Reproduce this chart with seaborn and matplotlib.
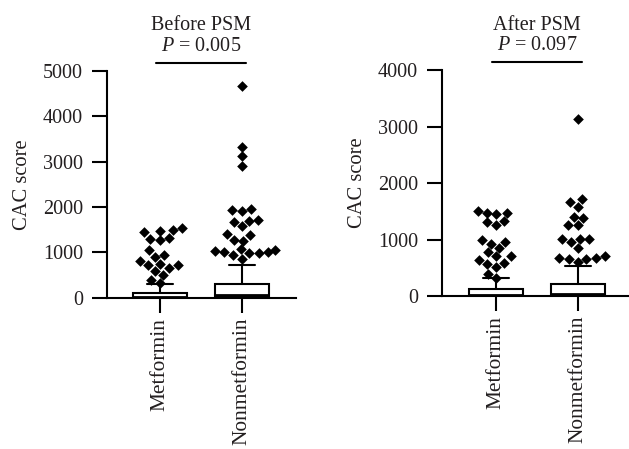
import numpy as np
import pandas as pd
import matplotlib
matplotlib.use("Agg")
import matplotlib.pyplot as plt
from matplotlib.markers import MarkerStyle
from matplotlib.transforms import Affine2D
import seaborn as sns

# ---------------- data ----------------
groups = ["Metformin", "Nonmetformin"]
titles = ["Before PSM", "After PSM"]
p_values = ["0.005", "0.097"]
y_max = [5000, 4000]
y_label = "CAC score"

# Tukey box statistics: lower whisker, Q1, median, Q3, upper whisker
before_met_box = [0, 0, 15, 110, 300]
before_non_box = [0, 20, 50, 300, 710]
after_met_box = [0, 0, 15, 120, 313]
after_non_box = [0, 15, 35, 213, 537]

# outliers
before_met_out = [1490, 1450, 1310, 1270, 1530, 1300, 1470, 1050, 950, 900,
                  800, 740, 720, 720, 650, 580, 500, 400, 320]
before_non_out = [4660, 3330, 3130, 2900, 1950, 1930, 1920, 1720, 1700, 1670,
                  1580, 1410, 1390, 1280, 1260, 1070, 1030, 1010, 1000, 990,
                  980, 1050, 940, 860]
after_met_out = [1470, 1460, 1510, 1470, 1320, 1250, 1310, 960, 1000, 930,
                 850, 780, 700, 700, 640, 590, 560, 520, 390, 310]
after_non_out = [3130, 1710, 1570, 1660, 1380, 1250, 1250, 1400, 1010, 1010,
                 1010, 960, 850, 700, 670, 670, 660, 650, 610]

panels = [
    (before_met_box, before_non_box, before_met_out, before_non_out),
    (after_met_box, after_non_box, after_met_out, after_non_out),
]

# ---------------- style ----------------
sns.set_style("ticks")
plt.rcParams["font.family"] = ["Liberation Serif", "DejaVu Serif"]
plt.rcParams["mathtext.fontset"] = "custom"
plt.rcParams["mathtext.rm"] = "Liberation Serif"
plt.rcParams["mathtext.it"] = "Liberation Serif:italic"
TXT = "#231f20"

fig = plt.figure(figsize=(6.29, 4.49), dpi=100)
ax_pos = [[0.1696, 0.337, 0.301, 0.505], [0.7022, 0.3408, 0.296, 0.5027]]
xlims = [(-0.646, 1.66), (-0.665, 1.616)]
diamond = MarkerStyle([(0, 1), (1, 0), (0, -1), (-1, 0), (0, 1)],
                      transform=Affine2D().scale(1.2))

for i, (mbox, nbox, mout, nout) in enumerate(panels):
    ax = fig.add_axes(ax_pos[i])
    df = pd.DataFrame({
        "group": [groups[0]] * len(mout) + [groups[1]] * len(nout),
        "value": mout + nout,
    })
    stats = []
    for b, name in zip([mbox, nbox], groups):
        stats.append(dict(whislo=b[0], q1=b[1], med=b[2], q3=b[3],
                          whishi=b[4], fliers=[], label=name))
    ax.bxp(stats, positions=[0, 1], widths=0.66, capwidths=0.32,
           showfliers=False, patch_artist=True, manage_ticks=False,
           boxprops=dict(facecolor="white", edgecolor="black", linewidth=1.5),
           medianprops=dict(color="black", linewidth=2.0),
           whiskerprops=dict(color="black", linewidth=1.5),
           capprops=dict(color="black", linewidth=1.5))
    sns.swarmplot(data=df, x="group", y="value", order=groups, color="black",
                  marker=diamond, size=6.4, linewidth=0, ax=ax, zorder=3,
                  clip_on=False)

    ax.set_xlim(*xlims[i])
    ax.set_ylim(0, y_max[i])
    ax.set_yticks(np.arange(0, y_max[i] + 1, 1000))
    ax.set_xticks([0, 1])
    ax.set_xticklabels(groups, rotation=90)
    ax.set_xlabel("")
    ax.set_ylabel(y_label, fontsize=14.8, color=TXT, labelpad=8)
    for s in ["top", "right"]:
        ax.spines[s].set_visible(False)
    for s in ["left", "bottom"]:
        ax.spines[s].set_linewidth(1.5)
        ax.spines[s].set_color("black")
    ax.tick_params(axis="both", direction="out", length=10.8, width=1.5,
                   color="black", labelcolor=TXT)
    ax.tick_params(axis="y", pad=6.3, labelsize=14.5)
    ax.tick_params(axis="x", pad=3.6, labelsize=15.4)

    tr = ax.get_xaxis_transform()
    ax.plot([-0.05, 1.05], [1.035, 1.035], transform=tr, clip_on=False,
            color="black", lw=1.5)
    ax.text(0.5, 1.18, titles[i], transform=tr, ha="center", va="baseline",
            fontsize=14.5, color=TXT)
    ax.text(0.5, 1.09, r"$P$ = " + p_values[i], transform=tr, ha="center",
            va="baseline", fontsize=14.5, color=TXT)

fig.savefig("out.png", dpi=100)
